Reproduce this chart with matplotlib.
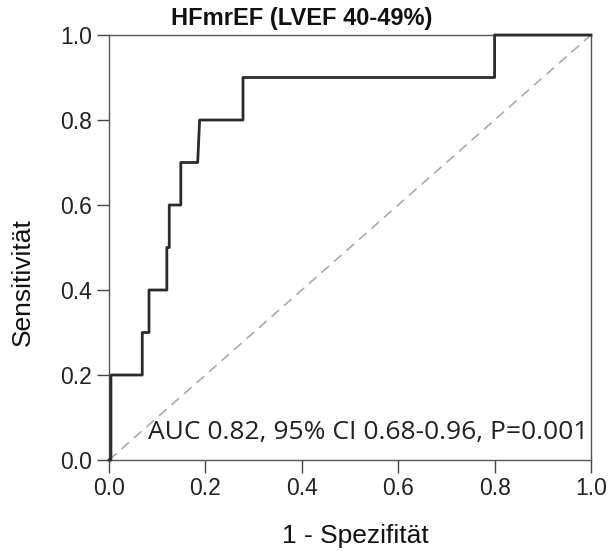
import numpy as np
import matplotlib
matplotlib.use("Agg")
import matplotlib.pyplot as plt

# ROC curve
fpr = [0.0, 0.004, 0.004, 0.069, 0.069, 0.083, 0.083, 0.12, 0.12, 0.125, 0.125,
       0.149, 0.149, 0.184, 0.188, 0.278, 0.278, 0.80, 0.80, 1.0]
tpr = [0.0, 0.0, 0.2, 0.2, 0.3, 0.3, 0.4, 0.4, 0.5, 0.5, 0.6,
       0.6, 0.7, 0.7, 0.8, 0.8, 0.9, 0.9, 1.0, 1.0]
ref_line = [0.0, 1.0]
ticks = [0.0, 0.2, 0.4, 0.6, 0.8, 1.0]
tick_labels = ["0.0", "0.2", "0.4", "0.6", "0.8", "1.0"]

title = "HFmrEF (LVEF 40-49%)"
auc_text = "AUC 0.82, 95% CI 0.68-0.96, P=0.001"

plt.rcParams["font.family"] = ["Liberation Sans", "DejaVu Sans"]

fig = plt.figure(figsize=(6.10, 5.51), dpi=100)
ax = fig.add_axes([109 / 610, 91 / 551, 482 / 610, 425 / 551])

ax.plot(ref_line, ref_line, color="#aaaaaa", lw=1.2, dashes=(6, 4))
ax.plot(fpr, tpr, color="#2b2b2b", lw=2.0, clip_on=False, zorder=3)

ax.set_xlim(0, 1)
ax.set_ylim(0, 1)
ax.set_xticks(ticks)
ax.set_xticklabels(tick_labels)
ax.set_yticks(ticks)
ax.set_yticklabels(tick_labels)
ax.tick_params(direction="out", length=9, width=1.0, color="#444444",
               labelsize=16.5, labelcolor="#222222", pad=3)

for s in ax.spines.values():
    s.set_color("#555555")
    s.set_linewidth(1.0)

ax.text(0.081, 0.05, auc_text, fontsize=19, family="Open Sans",
        color="#222222", ha="left", va="baseline")

fig.text(302 / 610, 1 - 18 / 551, title, fontsize=17, fontweight="bold",
         ha="center", va="center", color="#111111")
fig.text(355 / 610, 1 - 536 / 551, "1 - Spezifität", fontsize=19,
         ha="center", va="center", color="#111111")
fig.text(23 / 610, 1 - 282 / 551, "Sensitivität", fontsize=19, rotation=90,
         ha="center", va="center", color="#111111")

fig.savefig("out.png", dpi=100)
